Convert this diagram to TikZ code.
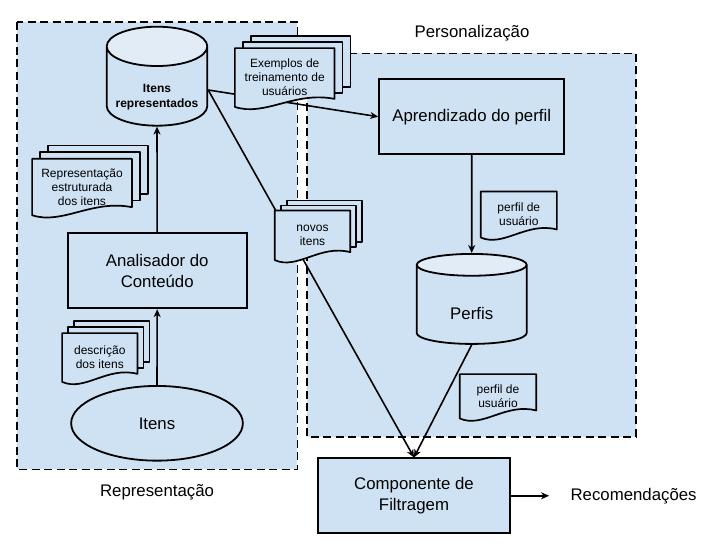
\documentclass[tikz,border=0pt]{standalone}
\usepackage{fontspec}
\setmainfont{Liberation Sans}
\usetikzlibrary{shapes.geometric}
\usetikzlibrary{positioning}
\usetikzlibrary{arrows.meta}
\usetikzlibrary{calc}
\definecolor{boxblue}{HTML}{CFE2F3}
\definecolor{toplight}{HTML}{E2ECF7}
\pgfdeclarelayer{regions}
\pgfdeclarelayer{edges}
\pgfdeclarelayer{docs}
\pgfsetlayers{regions,edges,docs,main}
\tikzset{
    region/.style = {fill=boxblue,draw=black,line width=1.6pt,dash pattern=on 8pt off 4.5pt},
    box/.style = {rectangle,line width=1.8pt,draw=black,fill=boxblue,align=center,font=\fontsize{16.8}{20.5}\selectfont},
    dbase/.style = {cylinder,shape border rotate=90,aspect=0.44,line width=1.8pt,draw=black,align=center,
        cylinder uses custom fill,cylinder body fill=boxblue,cylinder end fill=toplight},
    oval/.style = {ellipse,line width=1.8pt,draw=black,fill=boxblue,font=\fontsize{16.8}{20.5}\selectfont},
    doctext/.style = {rectangle,inner sep=0pt,align=center,font=\fontsize{12}{14.2}\selectfont},
    docpath/.style = {draw=black,fill=boxblue,line width=1.7pt,line join=round},
    grouplabel/.style = {font=\fontsize{16.8}{20.5}\selectfont},
    edgen/.style = {-{Stealth[length=8pt,width=7pt,inset=2.5pt]},line width=1.6pt},
}
% front sheet with wavy bottom
\newcommand\wavedoc[1]{%
  \path[docpath] (#1.north west) -- (#1.north east) -- ($(#1.south east)+(0,-8)$)
    .. controls ($(#1.south west)!0.6!(#1.south east)+(0,-16)$) and ($(#1.south west)!0.3!(#1.south east)+(0,10)$) .. (#1.south west) -- cycle;}
% two sheets behind
\newcommand\docpages[3]{%
  \foreach \k in {2,1}{%
    \path[docpath] ($(#1.north west)+(\k*#2,-\k*#3)$) rectangle ($(#1.south east)+(\k*#2,-8-\k*#3)$);}}

\begin{document}
\begin{tikzpicture}[x=1pt,y=-1pt]
\useasboundingbox (0,0) rectangle (718,549);
\begin{pgfonlayer}{regions}
\path[region] (16.7,21.7) rectangle (297.3,469.3);
\path[region] (306.7,53.3) rectangle (636,436.7);
\end{pgfonlayer}
\node[grouplabel] (lbper) at (472,33) {Personalização};
\node[grouplabel] (lbrep) at (157,492.7) {Representação};
%
\node[dbase,minimum width=100.6pt,minimum height=86.6pt,font=\fontsize{12}{15}\selectfont\bfseries] (irep) at (157,90) {\rule{0pt}{22pt}Itens\\representados};
\node[box,minimum width=179pt,minimum height=75pt] (anal) at (157.2,270.8) {Analisador do\\Conteúdo};
\node[oval,minimum width=171.7pt,minimum height=74.7pt] (itens) at (157,423.3) {Itens};
\node[box,minimum width=185.3pt,minimum height=74.7pt] (apr) at (471.7,116.7) {Aprendizado do perfil};
\node[dbase,minimum width=110pt,minimum height=90pt,font=\fontsize{16.8}{20.5}\selectfont] (perfis) at (471.7,306.7) {\rule{0pt}{26pt}Perfis};
\node[box,minimum width=192.3pt,minimum height=75pt] (comp) at (414,495.8) {Componente de\\Filtragem};
\node[grouplabel,right=56pt of comp] (rec) {Recomendações};
%
\node[doctext,minimum width=99.3pt,minimum height=58.4pt] (exdoc) at (284.7,77.5) {Exemplos de\\treinamento de\\usuários};
\node[doctext,minimum width=99.4pt,minimum height=56pt] (repdoc) at (82,187) {Representação\\estruturada\\dos itens};
\node[doctext,minimum width=75pt,minimum height=49.3pt] (novdoc) at (312.5,235.3) {novos\\itens};
\node[doctext,minimum width=75pt,minimum height=48.4pt] (descdoc) at (99.8,357.5) {descrição\\dos itens};
\node[doctext,minimum width=75.7pt,minimum height=45.6pt] (pfdoca) at (518.8,214.5) {perfil de\\usuário};
\node[doctext,minimum width=76pt,minimum height=44pt] (pfdocb) at (498,396.3) {perfil de\\usuário};
%
\begin{pgfonlayer}{edges}
\draw[edgen] (itens.north) -- (anal.south);
\draw[edgen] (anal.north) -- (irep.south);
\draw[edgen] (irep.east) -- (apr.west);
\draw[edgen] (irep.east) -- (comp.north);
\draw[edgen] (apr.south) -- (perfis.north);
\draw[edgen] (perfis.south) -- (comp.north);
\draw[edgen,shorten >=18pt] (comp.east) -- (rec.west |- comp.east);
\end{pgfonlayer}
%
\begin{pgfonlayer}{docs}
\docpages{exdoc}{8}{6}
\wavedoc{exdoc}
\docpages{repdoc}{8}{6.7}
\wavedoc{repdoc}
\docpages{novdoc}{6}{5}
\wavedoc{novdoc}
\docpages{descdoc}{6}{6}
\wavedoc{descdoc}
\wavedoc{pfdoca}
\wavedoc{pfdocb}
\end{pgfonlayer}
\end{tikzpicture}
\end{document}
